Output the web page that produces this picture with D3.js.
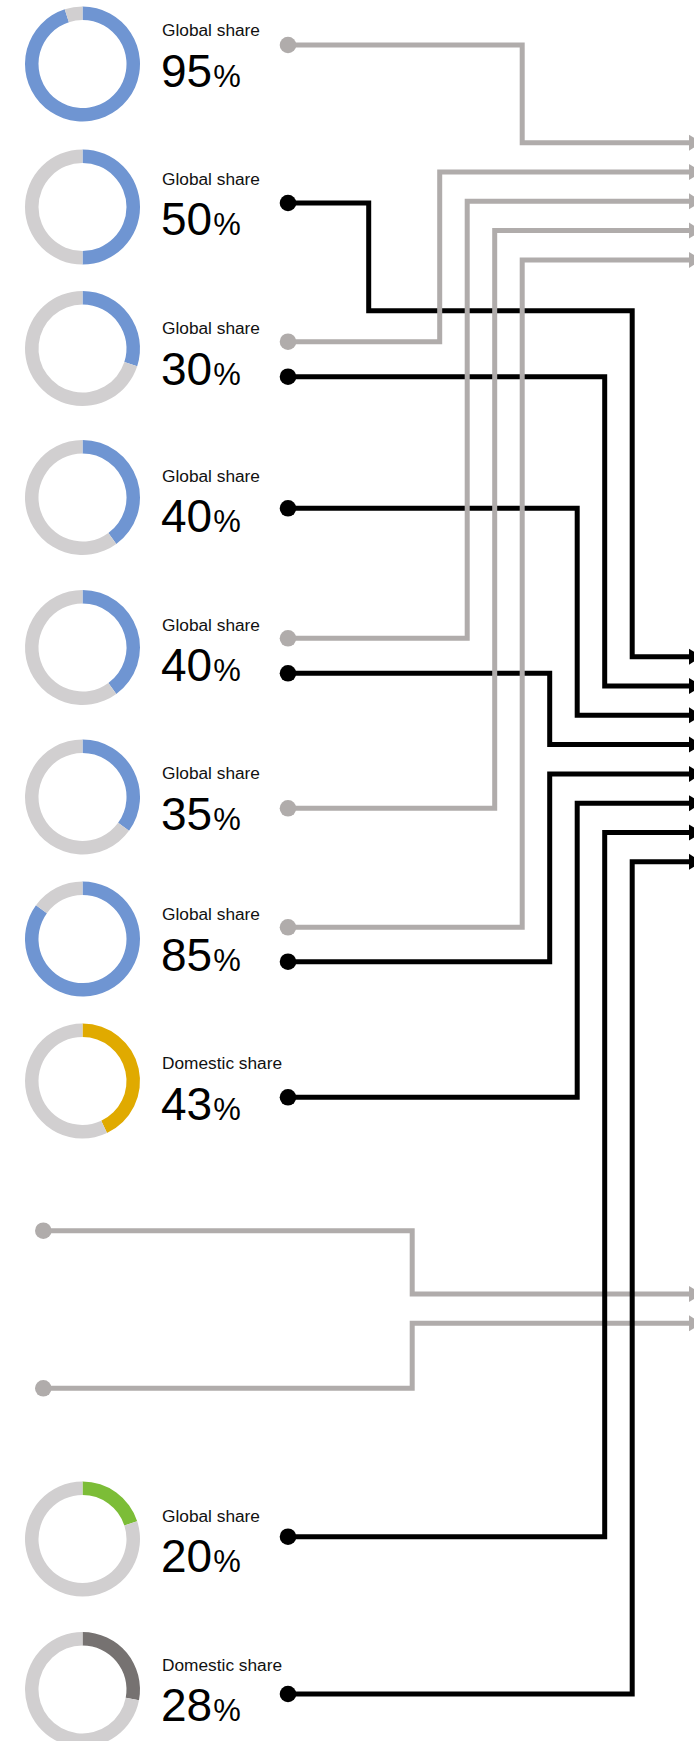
<!DOCTYPE html>
<html><head><meta charset="utf-8">
<script src="https://cdn.jsdelivr.net/npm/d3@7"></script>
<style>body{margin:0;background:#fff} svg{display:block}</style>
</head><body>
<svg id="c" width="694" height="1741"></svg>
<script>
// ---------- DATA ----------
const shareLabels = ["Global share","Global share","Global share","Global share","Global share","Global share","Global share","Domestic share","Global share","Domestic share"];
const shareValues = [95, 50, 30, 40, 40, 35, 85, 43, 20, 28];
const shareColorKeys = ["blue","blue","blue","blue","blue","blue","blue","gold","green","dark"];

// connector topology: kind (g = grey, k = black), arrow group, slot in group, vertical lane
const linkKind  = ["g","g","g","g","g","k","k","k","k","k","k","k","k","g","g"];
const linkGroup = [0,0,0,0,0,1,1,1,1,1,1,1,1,2,2];
const linkSlot  = [0,1,2,3,4,0,1,2,3,4,5,6,7,0,1];
const linkLane  = [3,0,1,2,3,7,6,5,4,4,5,6,7,-1,-1];

// ---------- LAYOUT ----------
const rowY   = [64, 207, 348.5, 497.5, 647.5, 797, 939, 1081, 1539, 1689.5];
const labelY = [36, 184.5, 334, 481.7, 630.7, 779, 920, 1069, 1521.7, 1670.7];
const linkDotX = [288,288,288,288,288,288,288,288,288,288,288,288,288,43.3,43.3];
const linkDotY = [45, 341.7, 638.3, 808.3, 927.3, 203, 376.7, 508.3, 673.3, 961.7, 1097.3, 1536.7, 1694, 1230.7, 1388.3];
const groupStartY = [142.7, 656.7, 1294];
const slotGap = 29.3;
const laneX = d3.scaleLinear().domain([0, 1]).range([439.7, 467.2]);
const colors = {blue:"#6f95d2", gold:"#e0aa00", green:"#7cbd37", dark:"#767271", track:"#d1cfd0", g:"#b0acab", k:"#000000"};

const svg = d3.select("#c");
const font = "'Liberation Sans', Arial, Helvetica, sans-serif";

// ---------- DONUTS ----------
const pie = d3.pie().sort(null).value(d => d);
const arc = d3.arc().innerRadius(44).outerRadius(57.5);
const donutX = 82.5;

shareValues.forEach((v, i) => {
  const g = svg.append("g").attr("transform", `translate(${donutX},${rowY[i]})`);
  g.selectAll("path").data(pie([v, 100 - v])).join("path")
    .attr("d", arc)
    .attr("fill", (d, j) => j === 0 ? colors[shareColorKeys[i]] : colors.track);

  svg.append("text").attr("x", 162).attr("y", labelY[i])
    .attr("font-family", font).attr("font-size", 17.3).attr("fill", "#111")
    .text(shareLabels[i]);
  const t = svg.append("text").attr("x", 161).attr("y", labelY[i] + 50.5)
    .attr("font-family", font).attr("font-size", 46).attr("fill", "#000");
  t.append("tspan").text(v);
  t.append("tspan").attr("font-size", 31).attr("dx", 1).text("%");
});

// ---------- CONNECTORS ----------
const endX = 689;
function linkPath(i) {
  const x0 = linkDotX[i], y0 = linkDotY[i];
  const lx = laneX(linkLane[i]);
  const ay = groupStartY[linkGroup[i]] + slotGap * linkSlot[i];
  const p = d3.path();
  p.moveTo(x0, y0);
  if (i === 5) { // first black link has an extra jog
    p.lineTo(368.7, y0);
    p.lineTo(368.7, 310.7);
    p.lineTo(lx, 310.7);
  } else {
    p.lineTo(lx, y0);
  }
  p.lineTo(lx, ay);
  p.lineTo(endX, ay);
  return {d: p.toString(), ay};
}

// draw order: bottom grey group, black, top grey group
const order = [13, 14, 5, 6, 7, 8, 9, 10, 11, 12, 0, 1, 2, 3, 4];
order.forEach(i => {
  const {d, ay} = linkPath(i);
  const c = colors[linkKind[i]];
  svg.append("path").attr("d", d).attr("fill", "none")
    .attr("stroke", c).attr("stroke-width", 5).attr("stroke-linejoin", "miter");
  svg.append("path")
    .attr("d", `M${endX},${ay - 8}L${endX + 13},${ay}L${endX},${ay + 8}Z`)
    .attr("fill", c);
  svg.append("circle").attr("cx", linkDotX[i]).attr("cy", linkDotY[i]).attr("r", 8.3).attr("fill", c);
});
</script>
</body></html>
